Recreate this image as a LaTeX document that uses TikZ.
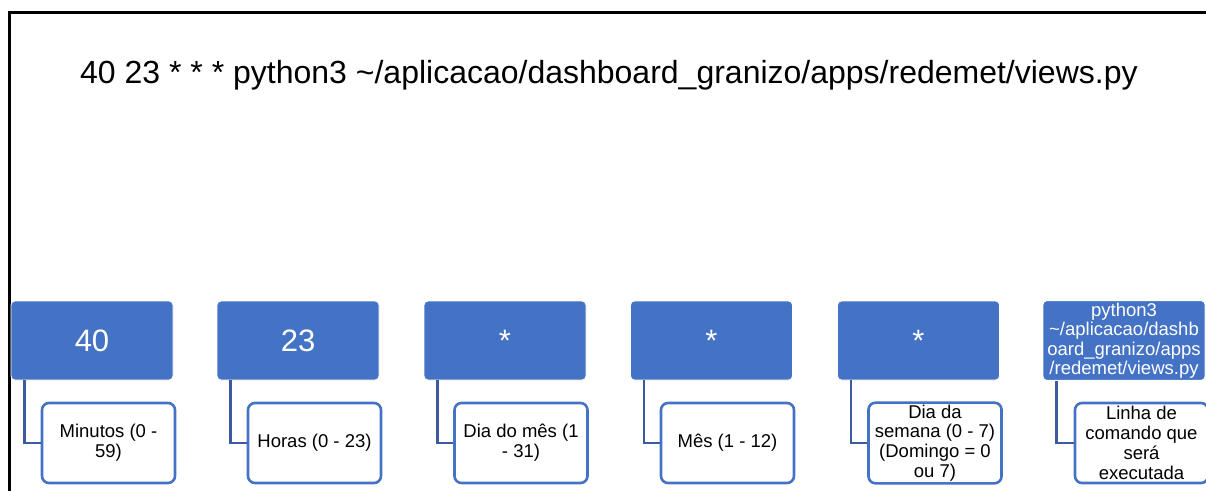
\documentclass[tikz,border=0pt]{standalone}
\usepackage{fontspec}
\setmainfont{Liberation Sans}
\definecolor{accent}{HTML}{4472C4}
\definecolor{linkblue}{HTML}{3A5BA0}
\tikzset{
  head/.style={draw=white, line width=0.8pt, fill=accent, rounded corners=4pt,
    minimum width=162pt, minimum height=79pt, inner sep=2pt, text=white,
    align=center},
  headbig/.style={head, font=\fontsize{31}{36}\selectfont},
  headsmall/.style={head, font=\fontsize{18.5}{19.5}\selectfont},
  leaf/.style={draw=accent, line width=2.6pt, fill=white, rounded corners=7pt,
    minimum width=133pt, minimum height=80pt, inner xsep=5.5pt, inner ysep=2pt,
    align=center, font=\fontsize{18.5}{19.8}\selectfont},
  link/.style={draw=linkblue, line width=2.6pt},
  frame/.style={draw=black, line width=3pt}
}
\begin{document}
\begin{tikzpicture}[x=1pt, y=-1pt]
  \useasboundingbox (0,0) rectangle (1206,490);
  \clip (0,0) rectangle (1206,490);
  % outer frame
  \draw[frame] (9,12) rectangle (1230,520);
  % full crontab line
  \node[anchor=base west, inner sep=0pt, font=\fontsize{32}{38}\selectfont] (cmd) at (80,83)
    {40 23 * * * python3 \textasciitilde/aplicacao/dashboard\_granizo/apps/redemet/views.py};
  % fields
  \node[headbig] (h1) at (92,340.5) {40};
  \node[headbig] (h2) at (298,340.5) {23};
  \node[headbig] (h3) at (505,340.5) {*};
  \node[headbig] (h4) at (711.5,340.5) {*};
  \node[headbig] (h5) at (918.5,340.5) {*};
  \node[headsmall] (h6) at (1124,340.5) {python3\\\textasciitilde/aplicacao/dashb\\oard\_granizo/apps\\/redemet/views.py};
  % descriptions
  \node[leaf] (c1) at (108.5,443) {Minutos (0 -\\59)};
  \node[leaf] (c2) at (314.5,443) {Horas (0 - 23)};
  \node[leaf] (c3) at (521,443) {Dia do mês (1\\- 31)};
  \node[leaf] (c4) at (727.5,443) {Mês (1 - 12)};
  \node[leaf] (c5) at (935,443) {Dia da\\semana (0 - 7)\\(Domingo = 0\\ou 7)};
  \node[leaf] (c6) at (1141.5,443) {Linha de\\comando que\\será\\executada};
  % connectors
  \foreach \i in {1,...,6}
    \draw[link] ([xshift=14pt]h\i.south west) |- (c\i.west);
\end{tikzpicture}
\end{document}
